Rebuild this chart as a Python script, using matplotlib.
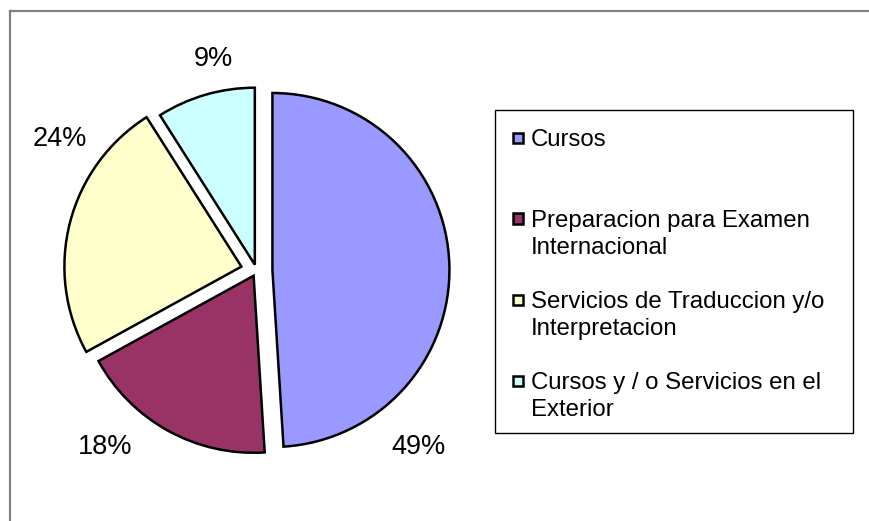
import matplotlib
matplotlib.use("Agg")
import matplotlib.pyplot as plt
from matplotlib.lines import Line2D
from matplotlib.patches import Rectangle

categories = ["Cursos", "Preparacion para Examen\nInternacional",
              "Servicios de Traduccion y/o\nInterpretacion",
              "Cursos y / o Servicios en el\nExterior"]
values = [49, 18, 24, 9]
colors = ["#9999FF", "#993366", "#FFFFCC", "#CCFFFF"]
pct_labels = ["49%", "18%", "24%", "9%"]

# styling / layout
explode = [0.09, 0.034, 0.088, 0.034]
label_pos = [(0.915, -1.0), (-0.853, -0.997), (-1.113, 0.743), (-0.243, 1.195)]

plt.rcParams['font.family'] = ['Liberation Sans', 'DejaVu Sans']

W, H = 870, 521
fig = plt.figure(figsize=(W / 100, H / 100), dpi=100)


def fx(px):
    return px / W


def fy(py):
    return 1 - py / H


cx, cy, R = 256.5, 270.5, 177
half = 1.3 * R
ax = fig.add_axes([fx(cx - half), fy(cy + half), 2 * half / W, 2 * half / H])
wedges, _ = ax.pie(values, colors=colors, startangle=90, counterclock=False,
                   explode=explode, radius=1,
                   wedgeprops=dict(edgecolor="black", linewidth=1.8))
ax.set_xlim(-1.3, 1.3)
ax.set_ylim(-1.3, 1.3)
ax.set_aspect("equal")
ax.axis("off")

for txt, (x, y) in zip(pct_labels, label_pos):
    ax.text(x, y, txt, fontsize=19.5, ha="center", va="center")

# legend box (drawn manually to match layout)
fig.add_artist(Rectangle((fx(495), fy(433)), (853 - 495) / W, (433 - 110) / H,
                         transform=fig.transFigure, facecolor="white",
                         edgecolor="black", linewidth=1.0))
first_baseline, entry_step, line_step = 146, 81, 27
for i, (lab, col) in enumerate(zip(categories, colors)):
    base = first_baseline + i * entry_step
    fig.add_artist(Rectangle((fx(513), fy(base - 3)), 10.5 / W, 10.5 / H,
                             transform=fig.transFigure, facecolor=col,
                             edgecolor="black", linewidth=1.8))
    for j, line in enumerate(lab.split("\n")):
        fig.text(fx(531), fy(base + j * line_step), line, fontsize=17.3,
                 ha="left", va="baseline")

# outer chart border (top and left visible)
fig.add_artist(Line2D([fx(10.5), 1], [fy(10.5), fy(10.5)], color="#808080",
                      linewidth=1.6, transform=fig.transFigure))
fig.add_artist(Line2D([fx(10.5), fx(10.5)], [0, fy(10.5)], color="#808080",
                      linewidth=1.6, transform=fig.transFigure))

fig.savefig("out.png", dpi=100)
